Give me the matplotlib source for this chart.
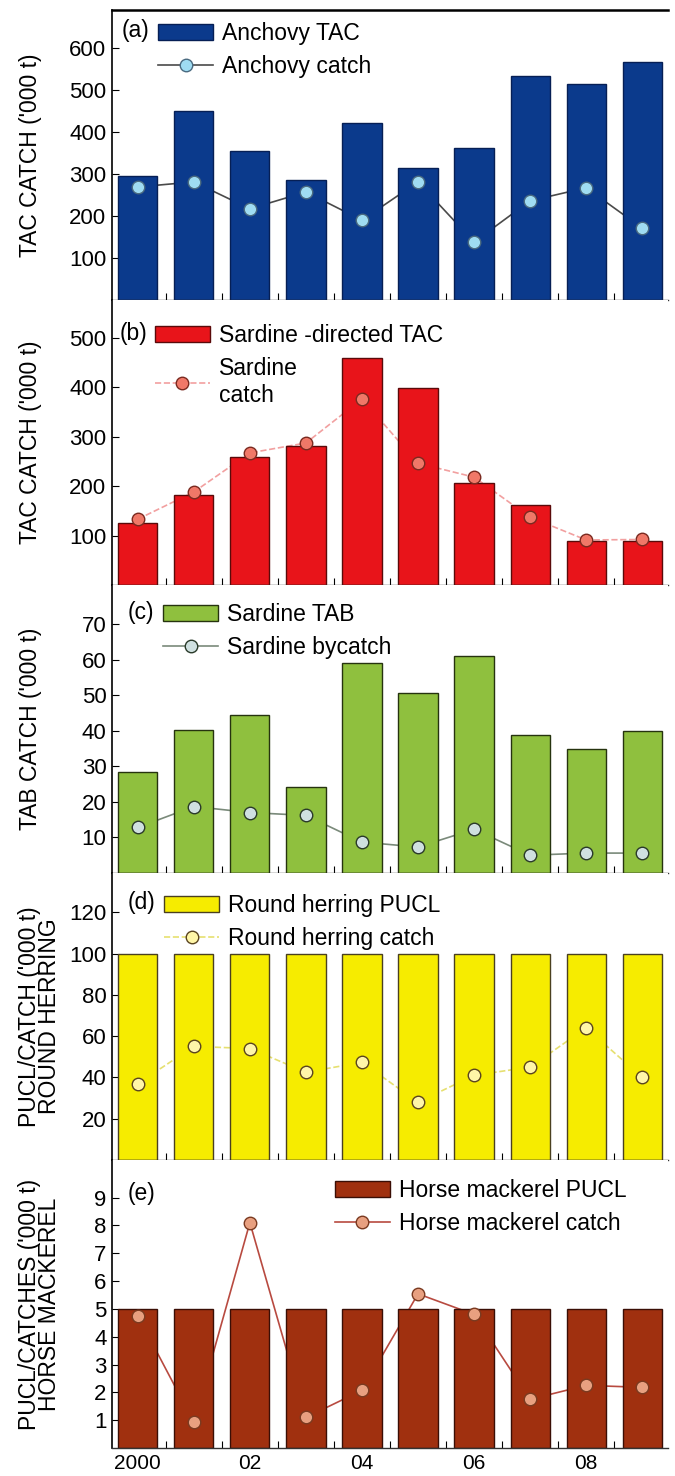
import numpy as np
import matplotlib.pyplot as plt
from matplotlib.lines import Line2D
from matplotlib.patches import Patch

plt.rcParams['font.family'] = ['Liberation Sans', 'DejaVu Sans']

years = np.arange(2000, 2010)

# (a) anchovy
anchovy_tac = [296, 450, 355, 286, 421, 315, 362, 533, 514, 567]
anchovy_catch = [269, 281, 217, 257, 190, 281, 138, 236, 267, 171]
# (b) sardine directed
sardine_tac = [125, 182, 259, 281, 459, 398, 206, 162, 89, 89]
sardine_catch = [133, 188, 267, 287, 376, 246, 218, 137, 91, 92]
# (c) sardine bycatch
sardine_tab = [28.5, 40.2, 44.4, 24.3, 59.2, 50.6, 60.9, 38.8, 34.9, 40.0]
sardine_bycatch = [12.8, 18.7, 17.0, 16.2, 8.7, 7.3, 12.3, 5.0, 5.6, 5.6]
# (d) round herring
herring_pucl = [100] * 10
herring_catch = [37, 55, 54, 42.5, 47.3, 28, 41, 45, 64, 40]
# (e) horse mackerel
mackerel_pucl = [5] * 10
mackerel_catch = [4.75, 0.93, 8.1, 1.1, 2.07, 5.54, 4.8, 1.75, 2.25, 2.18]

xlabels = ['2000', '02', '04', '06', '08']

FS = 16.5

panels = [
    dict(tag='(a)', bars=anchovy_tac, line=anchovy_catch,
         bar_lbl='Anchovy TAC', line_lbl='Anchovy catch',
         bar_col='#0b3a8c', bar_edge='#061f55', line_col='#4a4a4a', ls='-',
         mfc='#9fdcf2', mec='#4a6a80', ylim=690, yticks=range(100, 700, 100),
         ylabel="TAC CATCH ('000 t)", leg_x=0.083, leg_y=0.959, tag_x=0.018, tag_y=0.928,
         ylab_x=-0.126),
    dict(tag='(b)', bars=sardine_tac, line=sardine_catch,
         bar_lbl='Sardine -directed TAC', line_lbl='Sardine\ncatch',
         bar_col='#e8141a', bar_edge='#5a0a0a', line_col='#f2a0a0', ls='--',
         mfc='#f07868', mec='#7a2a20', ylim=576, yticks=range(100, 600, 100),
         ylabel="TAC CATCH ('000 t)", leg_x=0.077, leg_y=0.916, tag_x=0.014, tag_y=0.884,
         ylab_x=-0.126),
    dict(tag='(c)', bars=sardine_tab, line=sardine_bycatch,
         bar_lbl='Sardine TAB', line_lbl='Sardine bycatch',
         bar_col='#8fc03e', bar_edge='#26330f', line_col='#7a8a7a', ls='-',
         mfc='#cfe0e0', mec='#2a3a2a', ylim=81, yticks=range(10, 80, 10),
         ylabel="TAB CATCH ('000 t)", leg_x=0.092, leg_y=0.9375, tag_x=0.029, tag_y=0.906,
         ylab_x=-0.126),
    dict(tag='(d)', bars=herring_pucl, line=herring_catch,
         bar_lbl='Round herring PUCL', line_lbl='Round herring catch',
         bar_col='#f6ec00', bar_edge='#4a4020', line_col='#e6e070', ls='--',
         mfc='#fff6a8', mec='#5a4420', ylim=139, yticks=range(20, 140, 20),
         ylabel="PUCL/CATCH ('000 t)\nROUND HERRING", leg_x=0.094, leg_y=0.927,
         tag_x=0.029, tag_y=0.896, ylab_x=-0.092),
    dict(tag='(e)', bars=mackerel_pucl, line=mackerel_catch,
         bar_lbl='Horse mackerel PUCL', line_lbl='Horse mackerel catch',
         bar_col='#a0300f', bar_edge='#3a0e05', line_col='#b84a40', ls='-',
         mfc='#e8a080', mec='#7a3a20', ylim=10.35, yticks=range(1, 10),
         ylabel="PUCL/CATCHES ('000 t)\nHORSE MACKEREL", leg_x=0.401, leg_y=0.934,
         tag_x=0.029, tag_y=0.885, ylab_x=-0.092),
]

fig = plt.figure(figsize=(6.75, 14.76), dpi=100)
H = 1476.0
bounds = [10, 300, 585, 873, 1160, 1448]
left, width = 112 / 675, 556 / 675

for i, p in enumerate(panels):
    top, bot = bounds[i], bounds[i + 1]
    ax = fig.add_axes([left, 1 - bot / H, width, (bot - top) / H])

    # line behind the bars, markers on top
    ax.plot(years, p['line'], color=p['line_col'], ls=p['ls'], lw=1.2, zorder=1)
    ax.bar(years, p['bars'], width=0.7, color=p['bar_col'],
           edgecolor=p['bar_edge'], linewidth=1.0, zorder=2)
    ax.plot(years, p['line'], ls='none', marker='o', ms=9,
            mfc=p['mfc'], mec=p['mec'], mew=1.0, zorder=3)

    ax.set_xlim(1999.54, 2009.46)
    ax.set_ylim(0, p['ylim'])
    ax.set_yticks(list(p['yticks']))
    ax.tick_params(axis='y', direction='in', length=5, labelsize=16, width=0.8, pad=4)
    ax.set_xticks(years[::2])
    ax.set_xticks(years[:-1] + 0.5, minor=True)
    ax.tick_params(axis='x', which='major', length=0, labelsize=15, pad=4)
    ax.tick_params(axis='x', which='minor', direction='in', length=5, width=0.8)
    if i == len(panels) - 1:
        ax.set_xticklabels(xlabels)
    else:
        ax.set_xticklabels([])

    ax.spines['right'].set_visible(False)
    ax.spines['top'].set_visible(i == 0)
    ax.spines['top'].set_linewidth(1.8)
    ax.spines['left'].set_linewidth(1.2)
    ax.spines['bottom'].set_linewidth(1.0)
    ax.spines['bottom'].set_color('#333333')

    ax.set_ylabel(p['ylabel'], fontsize=FS, linespacing=0.85)
    ax.yaxis.set_label_coords(p['ylab_x'], 0.5)

    handles = [Patch(facecolor=p['bar_col'], edgecolor=p['bar_edge'], linewidth=1.0),
               Line2D([], [], color=p['line_col'], ls=p['ls'], lw=1.2, marker='o', ms=9,
                      mfc=p['mfc'], mec=p['mec'])]
    ax.legend(handles, [p['bar_lbl'], p['line_lbl']], loc='upper left',
              bbox_to_anchor=(p['leg_x'], p['leg_y']), frameon=False, fontsize=FS,
              borderpad=0, borderaxespad=0, handlelength=2.4, handleheight=0.74,
              handletextpad=0.4, labelspacing=0.45)
    ax.text(p['tag_x'], p['tag_y'], p['tag'], transform=ax.transAxes,
            fontsize=FS, va='center', ha='left')

fig.savefig('out.png', dpi=100)
